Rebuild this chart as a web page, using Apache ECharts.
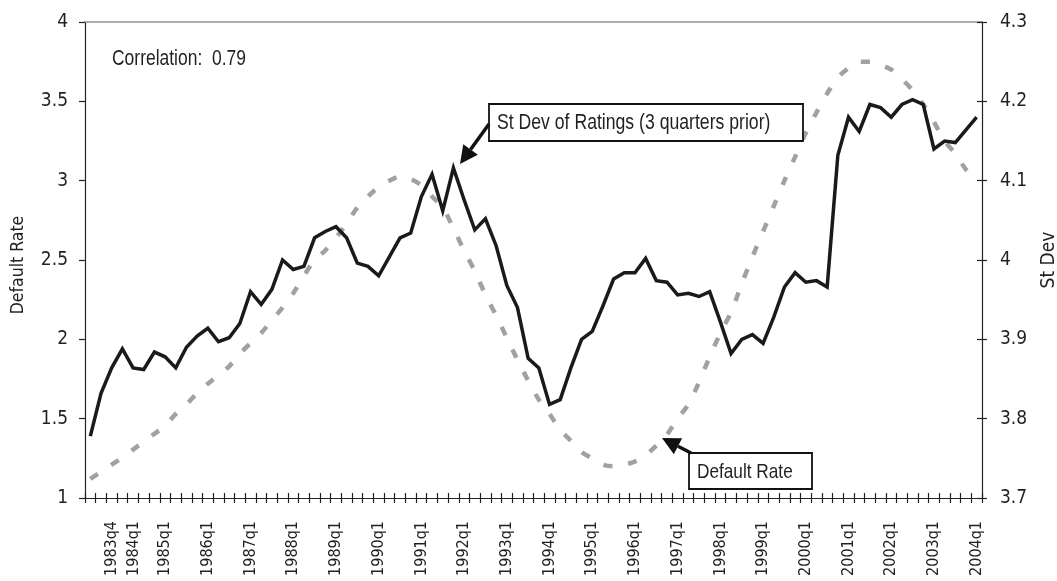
<!DOCTYPE html>
<html>
<head>
<meta charset="utf-8">
<script src="https://cdn.jsdelivr.net/npm/echarts@6/dist/echarts.min.js"></script>
<style>
html,body{margin:0;padding:0;background:#fff;}
#chart{width:1057px;height:581px;}
</style>
</head>
<body>
<div id="chart"></div>
<script>
// Quarterly categories 1983q2 .. 2004q1
const quarters = [];
for (let y = 1983; y <= 2004; y++) {
  for (let q = 1; q <= 4; q++) {
    if (y === 1983 && q < 2) continue;
    if (y === 2004 && q > 1) break;
    quarters.push(y + 'q' + q);
  }
}
const shownLabels = ['1983q4'];

// Default Rate (left axis), dashed grey
const defaultRate = [
  1.12,1.165,1.21,1.255,1.305,1.355,1.405,1.455,1.53,1.59,
  1.66,1.72,1.775,1.83,1.91,1.975,2.04,2.12,2.20,2.29,
  2.40,2.50,2.56,2.64,2.73,2.83,2.90,2.96,3.00,3.025,
  3.01,2.97,2.90,2.83,2.70,2.56,2.43,2.28,2.15,2.01,
  1.87,1.74,1.62,1.53,1.43,1.36,1.29,1.25,1.21,1.20,
  1.21,1.23,1.27,1.33,1.40,1.50,1.59,1.73,1.89,2.04,
  2.17,2.35,2.52,2.68,2.84,3.00,3.15,3.30,3.43,3.55,
  3.65,3.71,3.75,3.75,3.73,3.70,3.64,3.57,3.48,3.37,
  3.25,3.17,3.07,3.00
];

// St Dev of Ratings, 3 quarters prior (right axis), solid black
const stDev = [
  3.778,3.832,3.864,3.888,3.864,3.862,3.884,3.878,3.864,3.890,
  3.904,3.914,3.897,3.902,3.920,3.960,3.944,3.963,4.000,3.988,
  3.992,4.028,4.036,4.042,4.028,3.996,3.992,3.980,4.004,4.028,
  4.034,4.080,4.108,4.062,4.116,4.076,4.038,4.052,4.018,3.968,
  3.940,3.876,3.864,3.818,3.824,3.864,3.900,3.910,3.942,3.976,
  3.984,3.984,4.002,3.974,3.972,3.956,3.958,3.954,3.960,3.922,
  3.882,3.900,3.906,3.895,3.928,3.966,3.984,3.972,3.974,3.966,
  4.132,4.180,4.162,4.196,4.192,4.180,4.196,4.202,4.196,4.140,
  4.150,4.148,4.164,4.180
];

const leftTicks = { min: 1, max: 4, interval: 0.5 };
const rightTicks = { min: 3.7, max: 4.3, interval: 0.1 };

const FONT = "'DejaVu Sans Condensed', 'Liberation Sans', sans-serif";
const NARROW = "'Liberation Sans', Arial, sans-serif";
const TXT = '#231f20';

function arrow(x1, y1, x2, y2, hl, hw) {
  const a = Math.atan2(y2 - y1, x2 - x1);
  const c = Math.cos(a), s = Math.sin(a);
  const bx = x2 - hl * c, by = y2 - hl * s;
  return [
    { type: 'line', shape: { x1: x1, y1: y1, x2: bx, y2: by }, style: { stroke: '#111', lineWidth: 3.5 }, z: 100 },
    { type: 'polygon', shape: { points: [[x2, y2], [bx + hw * s, by - hw * c], [bx - hw * s, by + hw * c]] }, style: { fill: '#111' }, z: 100 }
  ];
}

function narrowText(x, y, text, size) {
  return { type: 'text', x: x, y: y, scaleX: 0.82, style: { text: text, fill: TXT, font: (size || 21) + 'px ' + NARROW, verticalAlign: 'middle', align: 'left' }, z: 101 };
}

function labelBox(x, y, w, h, text, size) {
  return [
    { type: 'rect', shape: { x: x, y: y, width: w, height: h }, style: { fill: '#fff', stroke: '#111', lineWidth: 1.8 }, z: 100 },
    narrowText(x + 8, y + h / 2 + 1, text, size)
  ];
}

const chart = echarts.init(document.getElementById('chart'), null, { renderer: 'canvas' });

const option = {
  animation: false,
  backgroundColor: '#fff',
  textStyle: { fontFamily: FONT },
  grid: { left: 85, right: 75, top: 22, bottom: 83, containLabel: false, outerBoundsMode: 'none' },
  xAxis: [
    {
      type: 'category', data: quarters, position: 'bottom', boundaryGap: true,
      axisLine: { lineStyle: { color: '#222', width: 1.2 } },
      axisTick: { show: true, interval: 0, length: 5, inside: false, lineStyle: { color: '#222', width: 1.2 } },
      axisLabel: {
        rotate: 90, margin: 23, fontSize: 16, color: TXT, fontFamily: FONT, hideOverlap: false,
        interval: function (i, v) { return shownLabels.indexOf(v) >= 0 || /q1$/.test(v); },
        formatter: function (v) { return v === '1984q1' ? '{s|' + v + '}' : v; },
        rich: { s: { fontSize: 16, fontFamily: FONT, color: TXT, padding: [22, 0, 0, 0] } }
      },
      splitLine: { show: false }
    },
    {
      type: 'category', data: quarters, position: 'bottom', boundaryGap: true,
      axisLine: { show: false },
      axisTick: { show: true, interval: 0, length: 5, inside: true, lineStyle: { color: '#222', width: 1.2 } },
      axisLabel: { show: false }, splitLine: { show: false }
    },
    {
      type: 'category', data: quarters, position: 'top', boundaryGap: true,
      axisLine: { show: true, lineStyle: { color: '#8c9299', width: 1.5 } },
      axisTick: { show: false }, axisLabel: { show: false }, splitLine: { show: false }
    }
  ],
  yAxis: [
    {
      type: 'value', position: 'left', min: leftTicks.min, max: leftTicks.max, interval: leftTicks.interval,
      name: 'Default Rate', nameLocation: 'middle', nameRotate: 90, nameGap: 58,
      nameTextStyle: { fontSize: 17.5, color: TXT, fontFamily: FONT, padding: [0, 10, 0, 0] },
      axisLine: { show: true, lineStyle: { color: '#222', width: 1.2 } },
      axisTick: { show: true, length: 6, lineStyle: { color: '#222', width: 1.2 } },
      axisLabel: { margin: 17, fontSize: 19, color: TXT, fontFamily: FONT },
      splitLine: { show: false }
    },
    {
      type: 'value', position: 'right', min: rightTicks.min, max: rightTicks.max, interval: rightTicks.interval,
      name: 'St Dev', nameLocation: 'middle', nameRotate: 90, nameGap: 58,
      nameTextStyle: { fontSize: 19, color: TXT, fontFamily: FONT },
      axisLine: { show: true, lineStyle: { color: '#222', width: 1.2 } },
      axisTick: { show: true, length: 5, lineStyle: { color: '#222', width: 1.2 } },
      axisLabel: { margin: 18, fontSize: 19, color: TXT, fontFamily: FONT },
      splitLine: { show: false }
    },
    {
      type: 'value', position: 'right', min: rightTicks.min, max: rightTicks.max, interval: rightTicks.interval,
      axisLine: { show: false },
      axisTick: { show: true, inside: true, length: 5, lineStyle: { color: '#222', width: 1.2 } },
      axisLabel: { show: false }, splitLine: { show: false }
    }
  ],
  series: [
    {
      name: 'Default Rate', type: 'line', xAxisIndex: 0, yAxisIndex: 0, data: defaultRate,
      smooth: 0.3, symbol: 'none',
      lineStyle: { color: '#9da2a7', width: 4.5, type: [9, 16], cap: 'butt' },
      z: 2
    },
    {
      name: 'St Dev of Ratings (3 quarters prior)', type: 'line', xAxisIndex: 0, yAxisIndex: 1, data: stDev,
      smooth: false, symbol: 'none',
      lineStyle: { color: '#1a1a1a', width: 3.5, join: 'miter' },
      z: 3
    }
  ],
  graphic: [narrowText(112, 59, 'Correlation:  0.79', 21.3)]
    .concat(labelBox(489, 104, 314, 37, 'St Dev of Ratings (3 quarters prior)', 21.5))
    .concat(arrow(489, 124, 460, 164, 18, 9))
    .concat(labelBox(689, 453, 123, 36, 'Default Rate', 21))
    .concat(arrow(691, 453, 662, 438, 18, 9))
};

chart.setOption(option);
</script>
</body>
</html>
